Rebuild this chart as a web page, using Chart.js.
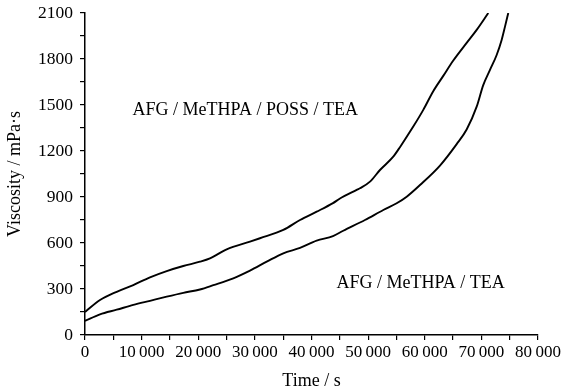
<!DOCTYPE html>
<html>
<head>
<meta charset="utf-8">
<script src="https://cdn.jsdelivr.net/npm/chart.js@4.4.1/dist/chart.umd.min.js"></script>
<style>
  html, body { margin: 0; padding: 0; background: #fff; }
  #wrap { width: 566px; height: 392px; }
</style>
</head>
<body>
<div id="wrap"><canvas id="chart" width="566" height="392"></canvas></div>
<script>
// data (time in s, viscosity in mPa·s)
const possTime = [0, 2650, 5600, 8530, 11480, 14430, 17360, 20300, 22070, 25020, 29140, 30900, 35020, 37970, 40910, 43790, 45030, 47980, 48560, 50330, 52090, 54440, 55620, 57970, 59740, 61500, 63270, 65040, 67400, 69170, 71220];
const possVisc = [150, 228, 282, 326, 376, 417, 450, 478, 500, 559, 609, 631, 685, 750, 804, 860, 890, 946, 957, 1000, 1076, 1163, 1225, 1359, 1468, 1590, 1690, 1790, 1905, 1990, 2100];

const teaTime = [0, 2650, 5600, 8530, 11480, 14430, 17360, 20300, 22660, 26190, 29140, 32090, 35020, 37970, 40910, 43790, 45610, 49440, 52680, 55040, 56810, 59160, 62690, 65640, 67400, 69170, 70330, 71520, 72700, 73580, 74170, 74750];
const teaVisc = [92, 135, 165, 196, 223, 250, 275, 297, 325, 370, 420, 478, 533, 568, 615, 645, 680, 750, 815, 859, 902, 978, 1105, 1245, 1340, 1489, 1630, 1729, 1826, 1924, 2011, 2100];

// curve labels, anchored in data units (left edge, vertical middle)
const labelText = ['AFG / MeTHPA / POSS / TEA', 'AFG / MeTHPA / TEA'];
const labelTime = [8400, 44400];
const labelVisc = [1468, 339];

const X_MAX = 80000;
const Y_MAX = 2100;
const SERIF = '"Liberation Serif", "Times New Roman", serif';

function toPoints(xs, ys) { return xs.map((x, i) => ({ x, y: ys[i] })); }
function fmtThousands(v) {
  if (v < 1000) return String(v);
  const s = String(v);
  return s.slice(0, -3) + '\u2009' + s.slice(-3);
}

// text labels drawn inside the plot
const curveLabels = {
  id: 'curveLabels',
  afterDatasetsDraw(chart) {
    const { ctx, scales } = chart;
    ctx.save();
    ctx.fillStyle = '#000';
    ctx.font = '18px ' + SERIF;
    ctx.textBaseline = 'middle';
    ctx.textAlign = 'left';
    labelText.forEach((t, i) => {
      ctx.fillText(t, scales.x.getPixelForValue(labelTime[i]), scales.y.getPixelForValue(labelVisc[i]));
    });
    ctx.restore();
  }
};

const lineStyle = { borderColor: '#000', borderWidth: 1.9, pointRadius: 0, cubicInterpolationMode: 'monotone', fill: false };

const chart = new Chart(document.getElementById('chart'), {
  type: 'line',
  data: {
    datasets: [
      { label: 'AFG / MeTHPA / POSS / TEA', data: toPoints(possTime, possVisc), ...lineStyle },
      { label: 'AFG / MeTHPA / TEA', data: toPoints(teaTime, teaVisc), ...lineStyle }
    ]
  },
  options: {
    responsive: false, animation: false, parsing: false,
    layout: { padding: { top: 13, right: 28, left: 0, bottom: 0 } },
    plugins: { legend: { display: false }, tooltip: { enabled: false } },
    scales: {
      x: {
        type: 'linear', min: 0, max: X_MAX,
        afterFit(s) { s.height = 57; },
        border: { display: true, color: '#000', width: 1.5 },
        grid: { drawOnChartArea: false, drawTicks: true, tickLength: 5, color: '#000', lineWidth: 1.2 },
        ticks: {
          stepSize: 5000, autoSkip: false, maxRotation: 0, color: '#000', padding: 2,
          font: { family: SERIF, size: 17 },
          callback: v => (v % 10000 === 0 ? fmtThousands(v) : '')
        },
        title: { display: true, text: 'Time / s', color: '#000', font: { family: SERIF, size: 18 }, padding: { top: 0, bottom: 0 } }
      },
      y: {
        type: 'linear', min: 0, max: Y_MAX,
        afterFit(s) { s.width = 85; s.paddingTop = 8; s.paddingBottom = 8; },
        border: { display: true, color: '#000', width: 1.5 },
        grid: { drawOnChartArea: false, drawTicks: true, tickLength: 5, color: '#000', lineWidth: 1.2 },
        ticks: {
          stepSize: 150, autoSkip: false, color: '#000', padding: 7,
          font: { family: SERIF, size: 17.5 },
          callback: v => (v % 300 === 0 ? String(v) : '')
        },
        title: { display: true, text: 'Viscosity / mPa\u00b7s', color: '#000', font: { family: SERIF, size: 18 }, padding: { top: 4, bottom: 0 } }
      }
    }
  },
  plugins: [curveLabels]
});
</script>
</body>
</html>
